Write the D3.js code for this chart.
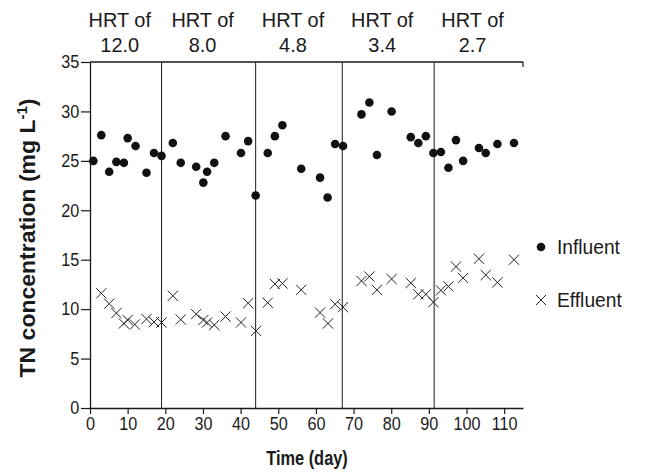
<!DOCTYPE html>
<html>
<head>
<meta charset="utf-8">
<script src="https://cdn.jsdelivr.net/npm/d3@7"></script>
<style>
  body { margin: 0; background: #fff; }
  text { font-family: "Liberation Sans", Arial, sans-serif; fill: #1a1a1a; }
</style>
</head>
<body>
<div id="chart"></div>
<script>
var width = 671,
    height = 473;

// données
var influentDays = [0.9, 3.0, 5.1, 7.0, 9.0, 10.0, 12.1, 15.0, 17.0, 19.0,
    22.0, 24.1, 28.2, 30.1, 31.1, 33.0, 36.0, 40.1, 42.0, 44.0,
    47.2, 49.1, 51.1, 56.1, 61.1, 63.1, 65.1, 67.2,
    72.1, 74.2, 76.2, 80.1, 85.2, 87.2, 89.2,
    91.2, 93.2, 95.2, 97.2, 99.1, 103.3, 105.1, 108.2, 112.6];
var influentTN = [25.0, 27.6, 23.9, 24.9, 24.8, 27.3, 26.5, 23.8, 25.8, 25.5,
    26.8, 24.8, 24.4, 22.8, 23.9, 24.8, 27.5, 25.8, 27.0, 21.5,
    25.8, 27.5, 28.6, 24.2, 23.3, 21.3, 26.7, 26.5,
    29.7, 30.9, 25.6, 30.0, 27.4, 26.8, 27.5,
    25.8, 25.9, 24.3, 27.1, 25.0, 26.3, 25.8, 26.7, 26.8];

var effluentDays = [3.0, 5.1, 7.0, 9.0, 10.0, 11.9, 15.0, 17.0, 19.0,
    22.0, 24.1, 28.2, 30.1, 31.1, 33.0, 36.0, 40.1, 42.0, 44.1,
    47.2, 49.1, 51.1, 56.1, 61.1, 63.2, 65.1, 67.2,
    72.1, 74.2, 76.2, 80.1, 85.2, 87.2, 89.2,
    91.2, 93.2, 95.2, 97.2, 99.1, 103.3, 105.1, 108.2, 112.6];
var effluentTN = [11.6, 10.55, 9.6, 8.55, 8.9, 8.45, 9.0, 8.7, 8.65,
    11.35, 8.95, 9.5, 8.9, 8.65, 8.4, 9.25, 8.65, 10.6, 7.8,
    10.65, 12.55, 12.6, 11.95, 9.65, 8.55, 10.5, 10.2,
    12.85, 13.3, 11.95, 13.05, 12.65, 11.5, 11.5,
    10.7, 11.9, 12.3, 14.3, 13.15, 15.1, 13.45, 12.7, 15.0];

// limites des périodes de HRT
var phaseBounds = [0, 19, 44, 67, 91.4, 115];
var hrtLabels = ["12.0", "8.0", "4.8", "3.4", "2.7"];

var xTicks = [0, 10, 20, 30, 40, 50, 60, 70, 80, 90, 100, 110];
var yTicks = [0, 5, 10, 15, 20, 25, 30, 35];

var svg = d3.select("#chart")
    .append("svg")
    .attr("width", width)
    .attr("height", height);

var x = d3.scaleLinear().domain([0, 115]).range([90, 523]);
var y = d3.scaleLinear().domain([0, 35]).range([408, 62]);

var ink = "#1a1a1a";

// la police de la figure est un peu étroite -> on compresse en largeur
function narrow(sel, k) {
    sel.attr("transform", "scale(" + k + ",1)");
}

// axe des x
var gx = svg.append("g")
    .attr("transform", "translate(0," + y(0) + ")")
    .call(d3.axisBottom(x).tickValues(xTicks).tickSize(6).tickPadding(3).tickSizeOuter(0));
gx.select(".domain").attr("stroke", ink).attr("stroke-width", 1.3);
gx.selectAll(".tick line").attr("stroke", ink).attr("stroke-width", 1.2);
gx.selectAll("text").style("font-size", "18px").attr("fill", ink).call(narrow, 0.9);

// axe des y
var gy = svg.append("g")
    .attr("transform", "translate(" + x(0) + ",0)")
    .call(d3.axisLeft(y).tickValues(yTicks).tickSize(9).tickPadding(3).tickSizeOuter(0));
gy.select(".domain").attr("stroke", ink).attr("stroke-width", 1.3);
gy.selectAll(".tick line").attr("stroke", ink).attr("stroke-width", 1.2);
gy.selectAll("text").style("font-size", "18px").attr("fill", ink).call(narrow, 0.9);

// ligne du haut + petit trait à droite
svg.append("line")
    .attr("x1", x(0)).attr("x2", x(115))
    .attr("y1", y(35)).attr("y2", y(35))
    .attr("stroke", ink).attr("stroke-width", 1.3);
svg.append("line")
    .attr("x1", x(115)).attr("x2", x(115))
    .attr("y1", y(35)).attr("y2", y(35) + 5)
    .attr("stroke", ink).attr("stroke-width", 1.2);

// séparations entre les périodes
svg.selectAll(".divider")
    .data(phaseBounds.slice(1, -1))
    .join("line")
    .attr("class", "divider")
    .attr("x1", function (d) { return x(d); })
    .attr("x2", function (d) { return x(d); })
    .attr("y1", y(35))
    .attr("y2", y(0))
    .attr("stroke", ink)
    .attr("stroke-width", 1);

// titres des périodes (un peu à gauche du milieu comme sur la figure)
var hrt = svg.selectAll(".hrt")
    .data(hrtLabels)
    .join("g")
    .attr("class", "hrt")
    .attr("transform", function (d, i) {
        var cx = x((phaseBounds[i] + phaseBounds[i + 1]) / 2) - 6;
        return "translate(" + cx + ",0) scale(0.95,1)";
    });
hrt.append("text")
    .attr("text-anchor", "middle")
    .attr("y", 27)
    .style("font-size", "21px")
    .text("HRT of");
hrt.append("text")
    .attr("text-anchor", "middle")
    .attr("y", 52)
    .style("font-size", "21px")
    .text(function (d) { return d; });

// effluent : croix
var cross = d3.symbol().type(d3.symbolX).size(70);
svg.selectAll(".eff")
    .data(effluentDays)
    .join("path")
    .attr("class", "eff")
    .attr("d", cross)
    .attr("transform", function (d, i) { return "translate(" + x(d) + "," + y(effluentTN[i]) + ")"; })
    .attr("fill", "none")
    .attr("stroke", "#222")
    .attr("stroke-width", 1);

// influent : points noirs
svg.selectAll(".inf")
    .data(influentDays)
    .join("circle")
    .attr("class", "inf")
    .attr("cx", function (d) { return x(d); })
    .attr("cy", function (d, i) { return y(influentTN[i]); })
    .attr("r", 4.3)
    .attr("fill", "#111");

// titres des axes
svg.append("text")
    .attr("transform", "translate(307,465) scale(0.82,1)")
    .attr("text-anchor", "middle")
    .style("font-size", "20px")
    .style("font-weight", "bold")
    .text("Time (day)");

var yt = svg.append("text")
    .attr("transform", "translate(35,238) scale(0.93,1) rotate(-90)")
    .attr("text-anchor", "middle")
    .style("font-size", "23px")
    .style("font-weight", "bold");
yt.append("tspan").text("TN concentration (mg L");
yt.append("tspan").attr("dy", -9).style("font-size", "15px").text("-1");
yt.append("tspan").attr("dy", 9).text(")");

// légende
svg.append("circle")
    .attr("cx", 541).attr("cy", 247).attr("r", 4.3).attr("fill", "#111");
svg.append("text")
    .attr("transform", "translate(557,254) scale(0.96,1)")
    .style("font-size", "20px")
    .text("Influent");
svg.append("path")
    .attr("d", cross)
    .attr("transform", "translate(541,300)")
    .attr("fill", "none").attr("stroke", "#222").attr("stroke-width", 1);
svg.append("text")
    .attr("transform", "translate(557,307) scale(0.96,1)")
    .style("font-size", "20px")
    .text("Effluent");
</script>
</body>
</html>
